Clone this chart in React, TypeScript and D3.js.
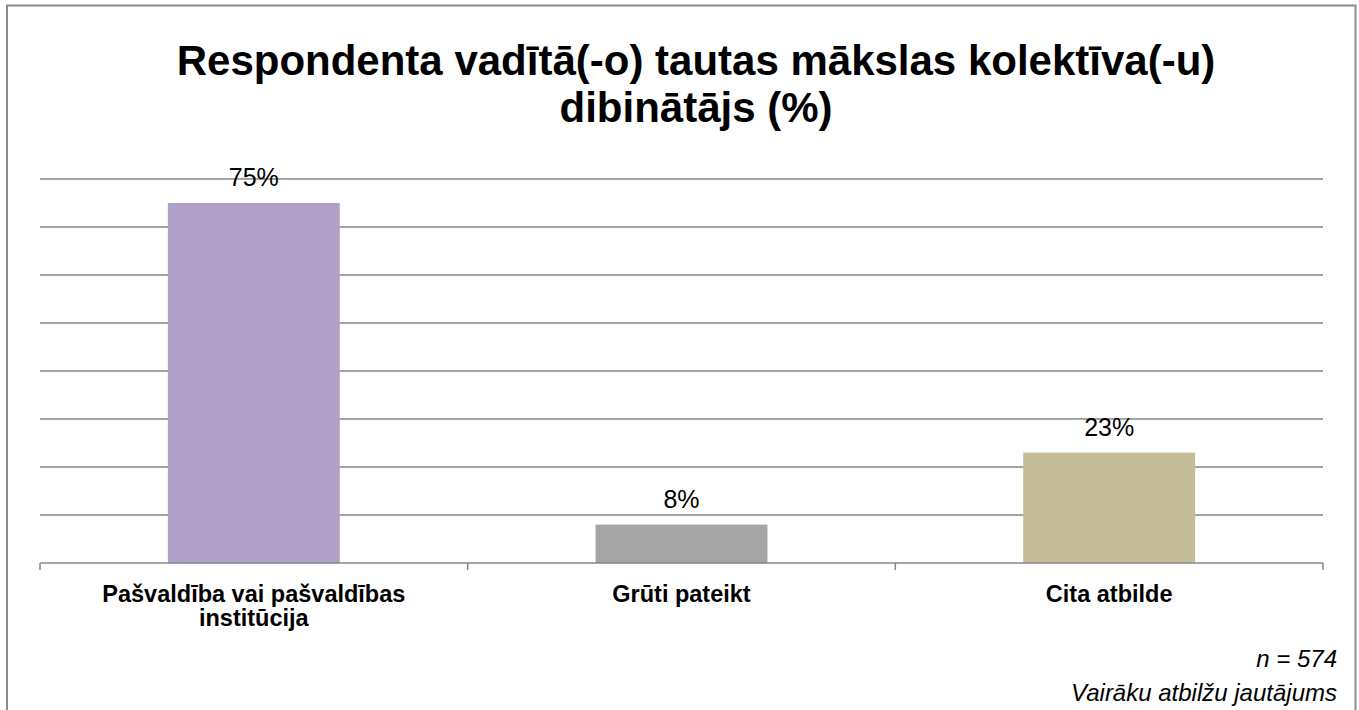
import React from "react";
import * as d3 from "d3";

const categories: string[][] = [
  ["Pašvaldība vai pašvaldības", "institūcija"],
  ["Grūti pateikt"],
  ["Cita atbilde"],
];
const values: number[] = [75, 8, 23];
const valueLabels: string[] = ["75%", "8%", "23%"];
const barColors: string[] = ["#B1A0C7", "#A5A5A5", "#C4BD97"];
const gridTicks: number[] = [10, 20, 30, 40, 50, 60, 70, 80];
const titleLines: string[] = [
  "Respondenta vadītā(-o) tautas mākslas kolektīva(-u)",
  "dibinātājs (%)",
];
const noteLines: string[] = ["n = 574", "Vairāku atbilžu jautājums"];

const W = 1359;
const H = 710;
const FONT = "'Liberation Sans', Arial, sans-serif";

export default function App() {
  const keys = categories.map((c) => c.join(" "));
  const x = d3.scaleBand<string>().domain(keys).range([40, 1323]).paddingInner(0).paddingOuter(0);
  const y = d3.scaleLinear().domain([0, 80]).range([563, 179]);
  const barW = x.bandwidth() * 0.402;
  const boundaries = [40, ...keys.map((k) => (x(k) as number) + x.bandwidth())];

  return (
    <svg
      width={W}
      height={H}
      style={{ position: "absolute", left: 0, top: 0, background: "#fff" }}
      fontFamily={FONT}
    >
      <rect x={0} y={0} width={W} height={H} fill="#fff" />
      <rect x={7} y={5.5} width={1348.5} height={720} fill="none" stroke="#8a8a8a" strokeWidth={2} />

      {titleLines.map((t, i) => (
        <text
          key={i}
          x={696}
          y={75 + i * 47}
          textAnchor="middle"
          fontSize={42}
          fontWeight="bold"
          fill="#000"
        >
          {t}
        </text>
      ))}

      {gridTicks.map((t) => (
        <line key={t} x1={40} x2={1323} y1={y(t)} y2={y(t)} stroke="#878787" strokeWidth={1.5} />
      ))}

      {keys.map((k, i) => {
        const cx = (x(k) as number) + x.bandwidth() / 2;
        return (
          <g key={k}>
            <rect
              x={cx - barW / 2}
              y={y(values[i])}
              width={barW}
              height={y(0) - y(values[i])}
              fill={barColors[i]}
            />
            <text x={cx} y={y(values[i]) - 17} textAnchor="middle" fontSize={25} fill="#000">
              {valueLabels[i]}
            </text>
            {categories[i].map((line, j) => (
              <text
                key={j}
                x={cx}
                y={602 + j * 23.5}
                textAnchor="middle"
                fontSize={23.5}
                fontWeight="bold"
                fill="#000"
              >
                {line}
              </text>
            ))}
          </g>
        );
      })}

      <line x1={40} x2={1323} y1={y(0)} y2={y(0)} stroke="#878787" strokeWidth={1.5} />
      {boundaries.map((bx, i) => (
        <line key={i} x1={bx} x2={bx} y1={y(0)} y2={y(0) + 7} stroke="#878787" strokeWidth={1.5} />
      ))}

      {noteLines.map((t, i) => (
        <text
          key={i}
          x={1337}
          y={667 + i * 34}
          textAnchor="end"
          fontSize={24}
          fontStyle="italic"
          fill="#000"
        >
          {t}
        </text>
      ))}
    </svg>
  );
}
